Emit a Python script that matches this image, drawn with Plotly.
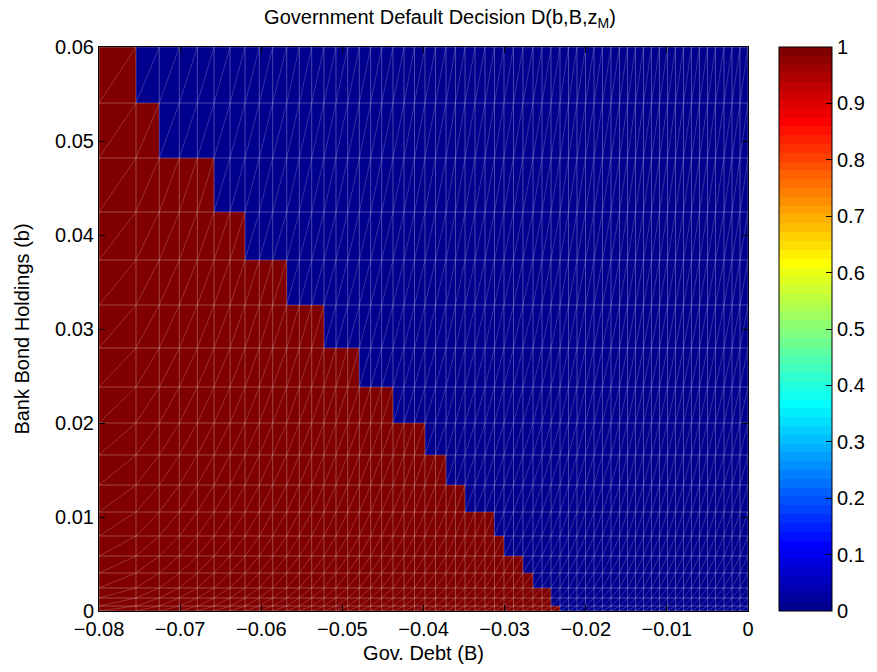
import plotly.graph_objects as go

# Grid of government debt B (column edges)
B_edges = [-0.08, -0.07544, -0.07257, -0.07010, -0.06788, -0.06582, -0.06385, -0.06200,
           -0.06024, -0.05859, -0.05686, -0.05531, -0.05378, -0.05227, -0.05079, -0.04934,
           -0.04791, -0.04651, -0.04515, -0.04376, -0.04240, -0.04111, -0.03982, -0.03852,
           -0.03723, -0.03606, -0.03488, -0.03365, -0.03242, -0.03125, -0.03008, -0.02891,
           -0.02774, -0.02650, -0.02539, -0.02428, -0.02317, -0.02213, -0.02108, -0.02003,
           -0.01898, -0.01794, -0.01689, -0.01584, -0.01485, -0.01387, -0.01288, -0.01190,
           -0.01091, -0.00992, -0.00894, -0.00795, -0.00697, -0.00598, -0.00499, -0.00401,
           -0.00296, -0.00197, -0.00099, 0.0]

# Grid of bank bond holdings b (row edges)
b_edges = [0.0, 0.00053, 0.00138, 0.00245, 0.00404, 0.00585, 0.00798, 0.01053, 0.0134,
           0.0166, 0.02, 0.02383, 0.02798, 0.03255, 0.03734, 0.04245, 0.04819, 0.05404, 0.06]

# Default threshold in B for each b row (default when B below threshold)
default_threshold = [-0.02317, -0.02428, -0.02428, -0.02650, -0.02774, -0.03008, -0.03125,
                     -0.03488, -0.03723, -0.03982, -0.04376, -0.04791, -0.05227, -0.05686,
                     -0.06200, -0.06582, -0.07257, -0.07544]

colorbar_ticks = [0, 0.1, 0.2, 0.3, 0.4, 0.5, 0.6, 0.7, 0.8, 0.9, 1]


def jet(m=64):
    n = 16
    u = [i / n for i in range(1, n + 1)] + [1.0] * (n - 1) + [i / n for i in range(n, 0, -1)]
    J = [[0.0, 0.0, 0.0] for _ in range(m)]
    for k in range(1, len(u) + 1):
        g = 8 + k
        r = g + n
        b = g - n
        if 1 <= r <= m:
            J[r - 1][0] = u[k - 1]
        if 1 <= g <= m:
            J[g - 1][1] = u[k - 1]
        if 1 <= b <= m:
            J[b - 1][2] = u[k - 1]
    return J


cmap = jet(64)
colorscale = []
for i, c in enumerate(cmap):
    col = "rgb(%d,%d,%d)" % tuple(round(v * 255) for v in c)
    colorscale.append([i / 64, col])
    colorscale.append([(i + 1) / 64, col])

# Decision per cell
z = []
for i in range(len(b_edges) - 1):
    row = []
    for j in range(len(B_edges) - 1):
        center = 0.5 * (B_edges[j] + B_edges[j + 1])
        row.append(1 if center < default_threshold[i] else 0)
    z.append(row)

cb_x = (779 - 99) / 649

fig = go.Figure()
fig.add_trace(go.Heatmap(
    x=B_edges, y=b_edges, z=z, zmin=0, zmax=1, colorscale=colorscale,
    hoverinfo="skip",
    colorbar=dict(
        x=cb_x, xanchor="left", xpad=0, ypad=0,
        y=0.5, yanchor="middle", len=1, lenmode="fraction",
        thickness=53, thicknessmode="pixels",
        outlinecolor="black", outlinewidth=1,
        tickvals=colorbar_ticks, ticks="inside", ticklen=6, tickcolor="black",
        tickfont=dict(family="Liberation Sans, Arial", size=20, color="black"),
    ),
))

# Mesh lines (faceted surface edges)
lx, ly = [], []
for b in b_edges:
    lx += [B_edges[0], B_edges[-1], None]
    ly += [b, b, None]
for B in B_edges:
    lx += [B, B, None]
    ly += [b_edges[0], b_edges[-1], None]
fig.add_trace(go.Scatter(x=lx, y=ly, mode="lines", hoverinfo="skip", showlegend=False,
                         line=dict(color="rgba(255,255,255,0.28)", width=1)))
dx, dy = [], []
for i in range(len(b_edges) - 1):
    for j in range(len(B_edges) - 1):
        dx += [B_edges[j], B_edges[j + 1], None]
        dy += [b_edges[i], b_edges[i + 1], None]
fig.add_trace(go.Scatter(x=dx, y=dy, mode="lines", hoverinfo="skip", showlegend=False,
                         line=dict(color="rgba(255,255,255,0.2)", width=1)))

# left-side ticks of the colorbar (MATLAB draws them on both sides)
shapes = []
for t in colorbar_ticks[1:-1]:
    shapes.append(dict(type="line", xref="paper", yref="paper",
                       x0=cb_x, x1=cb_x + 6 / 649, y0=t, y1=t,
                       line=dict(color="black", width=1)))

font = dict(family="Liberation Sans, Arial", size=20, color="black")
fig.update_layout(
    width=877, height=672,
    margin=dict(l=99, r=129, t=47, b=61, autoexpand=False),
    paper_bgcolor="white", plot_bgcolor="white",
    shapes=shapes,
    title=dict(text="Government Default Decision D(b,B,z<sub>M</sub>)",
               x=(440 - 99) / 649, xref="paper", xanchor="center",
               y=1 - 17 / 672, yref="container", yanchor="middle",
               font=dict(family="Liberation Sans, Arial", size=20, color="black")),
    xaxis=dict(range=[-0.08, 0], dtick=0.01, tick0=0, showgrid=False, zeroline=False,
               ticks="inside", ticklen=6, tickcolor="black", showline=True, linecolor="black",
               linewidth=1, mirror="ticks", tickfont=font, automargin=False,
               title=dict(text="Gov. Debt (B)", font=font, standoff=6)),
    yaxis=dict(range=[0, 0.06], dtick=0.01, tick0=0, showgrid=False, zeroline=False,
               ticks="inside", ticklen=6, tickcolor="black", showline=True, linecolor="black",
               linewidth=1, mirror="ticks", tickfont=font, automargin=False,
               title=dict(text="Bank Bond Holdings (b)", font=font, standoff=20)),
)

fig.write_html("out.html")
